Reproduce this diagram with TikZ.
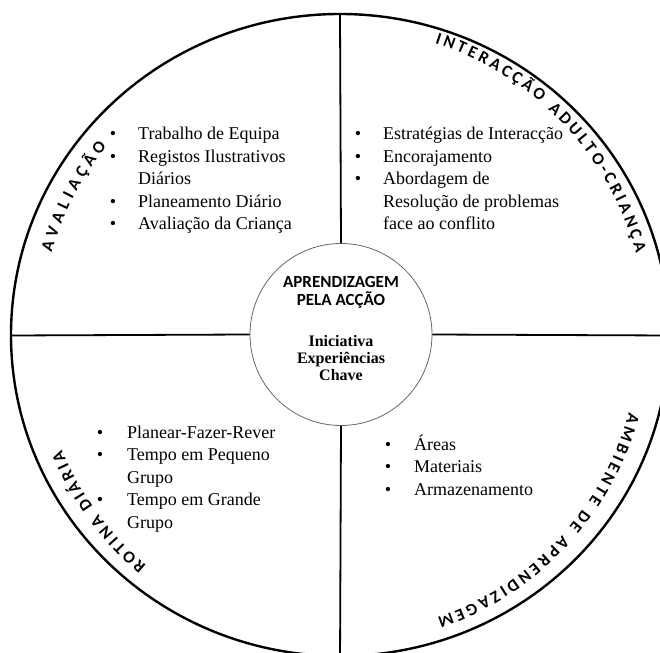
\documentclass[tikz,border=0pt]{standalone}
\usepackage{fontspec}
\setmainfont{Liberation Serif}
\newfontfamily\calfont{Carlito}
\usetikzlibrary{decorations.text}
\newcommand{\arcfont}{\calfont\bfseries\fontsize{17}{17}\selectfont}
\tikzset{
  itemtext/.style={anchor=base west, inner sep=0pt, font=\fontsize{18}{22}\selectfont},
  bul/.style={anchor=base, inner sep=0pt, font=\fontsize{18}{22}\selectfont},
  hubtitle/.style={anchor=base, inner sep=0pt, font=\calfont\bfseries\fontsize{17}{17}\selectfont},
  hubtext/.style={anchor=base, inner sep=0pt, font=\bfseries\fontsize{16}{16}\selectfont},
  arclabel/.style={font=\arcfont, decorate, decoration={text along path, text align=fit to path, text={|\arcfont|#1}}},
  divider/.style={line width=1.8pt, black},
}
\begin{document}
\begin{tikzpicture}[x=1pt,y=1pt]
  \useasboundingbox (-340,-317) rectangle (320,335);
  \begin{scope}
  \clip (-340,-317) rectangle (320,335);
  % outer ellipse
  \draw[line width=2.4pt] (0,0) ellipse [x radius=329, y radius=321];
  % hub
  \node[draw=black!60, line width=0.8pt, circle, minimum size=182pt, inner sep=0pt] (hub) at (1,0.5) {};
  \coordinate (top) at (0,321);
  \coordinate (bottom) at (0,-330);
  \coordinate (left) at (-329,-0.5);
  \coordinate (right) at (330,-0.5);
  \draw[divider] (hub.north) -- (top);
  \draw[divider] (hub.south) -- (bottom);
  \draw[divider] (hub.west) -- (left);
  \draw[divider] (hub.east) -- (right);
  \end{scope}
  % hub text
  \node[hubtitle] (h1) at (1,47) {APRENDIZAGEM};
  \node[hubtitle] (h2) at (1,29) {PELA ACÇÃO};
  \node[hubtext] (h3) at (1,-12) {Iniciativa};
  \node[hubtext] (h4) at (1,-29) {Experiências};
  \node[hubtext] (h5) at (1,-46) {Chave};
  % curved labels
  \path[arclabel={AVALIAÇÃO}] (164:300) arc[start angle=164, end angle=141, radius=300];
  \path[arclabel={INTERACÇÃO ADULTO-CRIANÇA}] (72:307) arc[start angle=72, end angle=15.5, radius=307];
  \path[arclabel={AMBIENTE DE APRENDIZAGEM}] (-15:299) arc[start angle=-15, end angle=-71, radius=299];
  \path[arclabel={ROTINA DIÁRIA}] (230:301) arc[start angle=230, end angle=202.5, radius=301];
  % top-left list
  \node[bul] (tlb1) at (-227,195) {•};
  \node[itemtext] (tl1) at (-202,195) {Trabalho de Equipa};
  \node[bul] (tlb2) at (-227,172.5) {•};
  \node[itemtext] (tl2) at (-202,172.5) {Registos Ilustrativos};
  \node[itemtext] (tl3) at (-202,150) {Diários};
  \node[bul] (tlb4) at (-227,127.5) {•};
  \node[itemtext] (tl4) at (-202,127.5) {Planeamento Diário};
  \node[bul] (tlb5) at (-227,105) {•};
  \node[itemtext] (tl5) at (-202,105) {Avaliação da Criança};
  % top-right list
  \node[bul] (trb1) at (18,195) {•};
  \node[itemtext] (tr1) at (43,195) {Estratégias de Interacção};
  \node[bul] (trb2) at (18,172.5) {•};
  \node[itemtext] (tr2) at (43,172.5) {Encorajamento};
  \node[bul] (trb3) at (18,150) {•};
  \node[itemtext] (tr3) at (43,150) {Abordagem de};
  \node[itemtext] (tr4) at (43,127.5) {Resolução de problemas};
  \node[itemtext] (tr5) at (43,105) {face ao conflito};
  % bottom-left list
  \node[bul] (blb1) at (-240,-103) {•};
  \node[itemtext] (bl1) at (-213,-103) {Planear-Fazer-Rever};
  \node[bul] (blb2) at (-240,-125.5) {•};
  \node[itemtext] (bl2) at (-213,-125.5) {Tempo em Pequeno};
  \node[itemtext] (bl3) at (-213,-148) {Grupo};
  \node[bul] (blb4) at (-240,-170.5) {•};
  \node[itemtext] (bl4) at (-213,-170.5) {Tempo em Grande};
  \node[itemtext] (bl5) at (-213,-193) {Grupo};
  % bottom-right list
  \node[bul] (brb1) at (48,-115) {•};
  \node[itemtext] (br1) at (74,-115) {Áreas};
  \node[bul] (brb2) at (48,-137.5) {•};
  \node[itemtext] (br2) at (74,-137.5) {Materiais};
  \node[bul] (brb3) at (48,-160) {•};
  \node[itemtext] (br3) at (74,-160) {Armazenamento};
\end{tikzpicture}
\end{document}
